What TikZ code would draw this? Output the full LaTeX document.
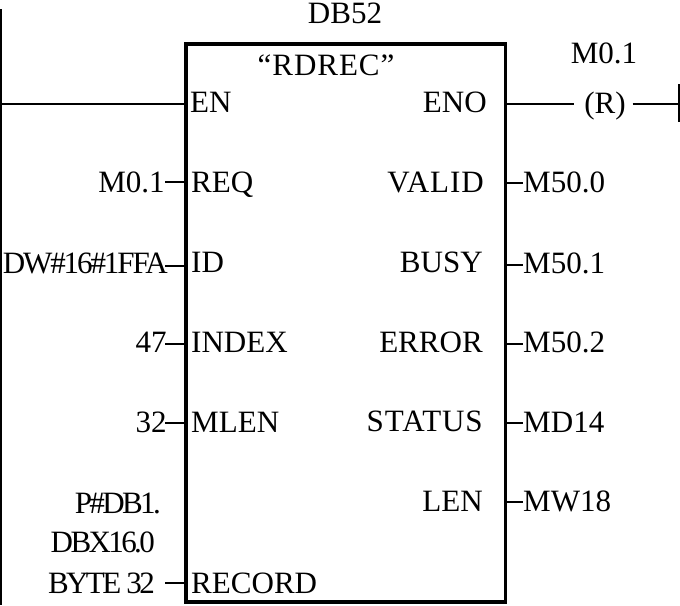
\documentclass[tikz,border=0pt]{standalone}
\usepackage{fontspec}
\setmainfont{Liberation Serif}
\newfontfamily\tightserif[LetterSpace=-8.5]{Liberation Serif}
\newfontfamily\midserif[LetterSpace=-6.8]{Liberation Serif}
\newfontfamily\wideserif[LetterSpace=3]{Liberation Serif}
\usepackage{tikz}

\begin{document}
\begin{tikzpicture}[
    x=0.03cm, y=-0.03cm,
    every node/.style={inner sep=0pt, text height=0.66em, text depth=0pt, font=\fontsize{26.5pt}{28pt}\selectfont},
    pinname/.style={anchor=base west},
    outname/.style={anchor=base east},
    inval/.style={anchor=base east},
    outval/.style={anchor=base west},
    tight/.style={font=\fontsize{26.5pt}{28pt}\selectfont\tightserif},
    mid/.style={font=\fontsize{26.5pt}{28pt}\selectfont\midserif},
    wide/.style={font=\fontsize{26.5pt}{28pt}\selectfont\wideserif},
    wire/.style={line width=1.1pt},
    rail/.style={line width=2.4pt},
    fblock/.style={draw, line width=2.9pt, minimum width=9.585cm, minimum height=16.74cm}
]

\useasboundingbox (0,0) rectangle (680,605);

% power rails
\coordinate (railtop) at (1,9);
\coordinate (railbot) at (1,605);
\coordinate (railin) at (1,104);
\coordinate (railout) at (679,104);
\coordinate (railouttop) at (679,84);
\coordinate (railoutbot) at (679,122);
\draw[rail] (railtop) -- (railbot);
\draw[wire] (railouttop) -- (railoutbot);

% function block
\node[fblock] (rdrec) at (345.75,323) {};
\node[anchor=base] (dbnum) at (345,23) {DB52};
\node[anchor=base, wide] (fbname) at (326,75) {“RDREC”};

% inputs
\node[pinname] (en) at (190,112) {EN};
\node[pinname] (req) at (191,192) {REQ};
\node[pinname] (id) at (191,272) {ID};
\node[pinname] (index) at (191,352) {INDEX};
\node[pinname] (mlen) at (191,432) {MLEN};
\node[pinname] (record) at (191,593) {RECORD};

% outputs
\node[outname] (eno) at (487,112) {ENO};
\node[outname, wide] (valid) at (484,192) {VALID};
\node[outname] (busy) at (483,272) {BUSY};
\node[outname] (error) at (483,352) {ERROR};
\node[outname, wide] (status) at (483,431) {STATUS};
\node[outname] (len) at (483,511) {LEN};

% input values
\node[inval] (reqval) at (165,192) {M0.1};
\node[inval, mid] (idval) at (168,273) {DW\#16\#1FFA};
\node[inval] (indexval) at (167,352) {47};
\node[inval] (mlenval) at (167,432) {32};
\node[inval, tight] (ptrone) at (161,513) {P\#DB1.};
\node[inval, tight] (ptrtwo) at (155,552) {DBX16.0};
\node[inval, tight] (ptrthree) at (155,593) {BYTE 32};

% output values
\node[outval] (validval) at (523,192) {M50.0};
\node[outval] (busyval) at (523,273) {M50.1};
\node[outval] (errorval) at (523,352) {M50.2};
\node[outval] (statusval) at (523,432) {MD14};
\node[outval] (lenval) at (523,511) {MW18};

% reset coil
\node[anchor=base] (coil) at (605,113) {(R)};
\node[anchor=base] (coilbit) at (604,63) {M0.1};

% pin stubs
\coordinate (reqpin) at (165,182);
\coordinate (idpin) at (165,266);
\coordinate (indexpin) at (165,344);
\coordinate (mlenpin) at (165,423);
\coordinate (recordpin) at (165,583);
\coordinate (validpin) at (523,183);
\coordinate (busypin) at (523,265);
\coordinate (errorpin) at (523,344);
\coordinate (statuspin) at (523,423);
\coordinate (lenpin) at (523,502);

% wires
\draw[wire] (railin) -- (railin -| rdrec.west);
\draw[wire] (railin -| rdrec.east) -- ([xshift=-0.3cm]coil.west |- railin);
\draw[wire] ([xshift=0.2cm]coil.east |- railout) -- (railout);
\draw[wire] (reqpin) -- (reqpin -| rdrec.west);
\draw[wire] (idpin) -- (idpin -| rdrec.west);
\draw[wire] (indexpin) -- (indexpin -| rdrec.west);
\draw[wire] (mlenpin) -- (mlenpin -| rdrec.west);
\draw[wire] (recordpin) -- (recordpin -| rdrec.west);
\draw[wire] (validpin -| rdrec.east) -- (validpin);
\draw[wire] (busypin -| rdrec.east) -- (busypin);
\draw[wire] (errorpin -| rdrec.east) -- (errorpin);
\draw[wire] (statuspin -| rdrec.east) -- (statuspin);
\draw[wire] (lenpin -| rdrec.east) -- (lenpin);

\end{tikzpicture}
\end{document}
